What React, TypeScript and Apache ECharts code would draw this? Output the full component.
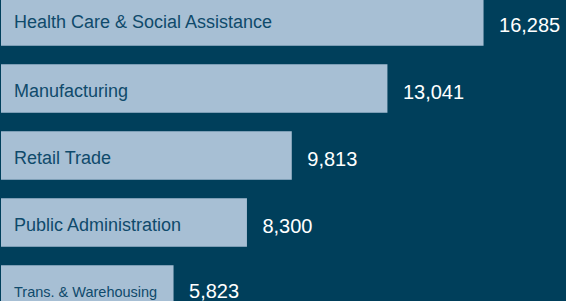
import React, { useEffect, useRef } from "react";
import * as echarts from "echarts";

const categories = [
  "Health Care & Social Assistance",
  "Manufacturing",
  "Retail Trade",
  "Public Administration",
  "Trans. & Warehousing",
];
const values = [16285, 13041, 9813, 8300, 5823];
const smallLabelIndex = 4;

const BG = "#003f5b";
const BAR = "#a7bfd4";
const NAME_COLOR = "#0f4a6b";
const FONT = "'Liberation Sans', Arial, Helvetica, sans-serif";

export default function App() {
  const ref = useRef<HTMLDivElement>(null);
  useEffect(() => {
    document.body.style.margin = "0";
    document.body.style.background = BG;
    const chart = echarts.init(ref.current!, null, { renderer: "svg" });
    chart.setOption({
      animation: false,
      backgroundColor: BG,
      grid: { left: 1, right: 2, top: 0, height: 335, containLabel: false, outerBoundsMode: "none" },
      xAxis: { type: "value", min: 0, max: 19000, show: false },
      yAxis: { type: "category", inverse: true, data: categories, show: false },
      series: [
        {
          type: "bar",
          barWidth: 48.5,
          silent: true,
          itemStyle: { color: BAR },
          data: values.map((v, i) => ({
            value: v,
            label: {
              fontSize: i === smallLabelIndex ? 14.5 : 18,
              offset: [0, i === 0 ? 0 : 2.5],
            },
          })),
          label: {
            show: true,
            position: "insideLeft",
            distance: 13,
            formatter: "{b}",
            color: NAME_COLOR,
            fontFamily: FONT,
            fontSize: 18,
          },
        },
        {
          type: "bar",
          barWidth: 48.5,
          barGap: "-100%",
          silent: true,
          itemStyle: { color: "transparent" },
          data: values.map((v, i) => ({
            value: v,
            label: { offset: [0, i === smallLabelIndex ? 1.5 : 3.5] },
          })),
          label: {
            show: true,
            position: "right",
            distance: 15.5,
            formatter: (p: any) => Number(p.value).toLocaleString("en-US"),
            color: "#ffffff",
            fontFamily: FONT,
            fontSize: 20,
          },
        },
      ],
    });
    return () => chart.dispose();
  }, []);
  return (
    <div style={{ width: 566, height: 301, overflow: "hidden", position: "relative", background: BG }}>
      <div ref={ref} style={{ width: 566, height: 340, position: "absolute", left: 0, top: -12.25 }} />
    </div>
  );
}
